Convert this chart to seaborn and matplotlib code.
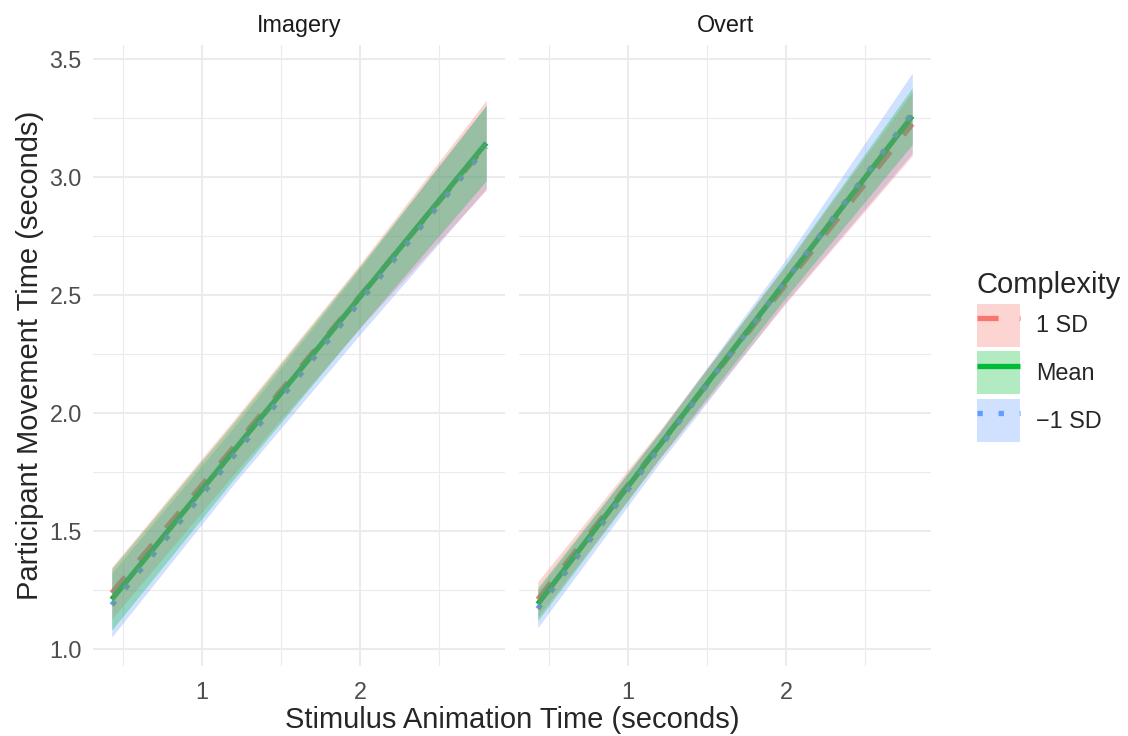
import matplotlib
matplotlib.use("Agg")
import matplotlib.pyplot as plt
import pandas as pd
import seaborn as sns
from matplotlib.lines import Line2D
from matplotlib.patches import Patch
from matplotlib.ticker import FormatStrFormatter, MultipleLocator

PANELS = ["Imagery", "Overt"]
LEVELS = ["1 SD", "Mean", "\u22121 SD"]
X_POINTS = [0.43, 1.2, 2.0, 2.8]

# Imagery panel: fitted line and ribbon bounds, read at X_POINTS
IMAGERY_HI_FIT = [1.237, 1.854, 2.495, 3.135]
IMAGERY_HI_LOW = [1.127, 1.739, 2.360, 2.945]
IMAGERY_HI_UP = [1.347, 1.969, 2.630, 3.325]
IMAGERY_MEAN_FIT = [1.210, 1.838, 2.491, 3.144]
IMAGERY_MEAN_LOW = [1.080, 1.718, 2.361, 2.984]
IMAGERY_MEAN_UP = [1.340, 1.958, 2.621, 3.304]
IMAGERY_LO_FIT = [1.186, 1.817, 2.472, 3.127]
IMAGERY_LO_LOW = [1.050, 1.697, 2.332, 2.950]
IMAGERY_LO_UP = [1.322, 1.937, 2.612, 3.304]

# Overt panel
OVERT_HI_FIT = [1.210, 1.865, 2.545, 3.225]
OVERT_HI_LOW = [1.135, 1.805, 2.465, 3.090]
OVERT_HI_UP = [1.285, 1.925, 2.625, 3.360]
OVERT_MEAN_FIT = [1.190, 1.862, 2.560, 3.258]
OVERT_MEAN_LOW = [1.120, 1.807, 2.490, 3.138]
OVERT_MEAN_UP = [1.260, 1.917, 2.630, 3.378]
OVERT_LO_FIT = [1.170, 1.852, 2.561, 3.270]
OVERT_LO_LOW = [1.090, 1.787, 2.471, 3.100]
OVERT_LO_UP = [1.250, 1.917, 2.651, 3.440]

COLORS = {"1 SD": "#F8766D", "Mean": "#00BA38", "\u22121 SD": "#619CFF"}
DASHES = {"1 SD": (4, 4), "Mean": "", "\u22121 SD": (1, 3)}
RIBBON_ORDER = ["\u22121 SD", "1 SD", "Mean"]

fits = {
    "Imagery": [IMAGERY_HI_FIT, IMAGERY_MEAN_FIT, IMAGERY_LO_FIT],
    "Overt": [OVERT_HI_FIT, OVERT_MEAN_FIT, OVERT_LO_FIT],
}
ribbons = {
    "Imagery": dict(zip(LEVELS, [(IMAGERY_HI_LOW, IMAGERY_HI_UP), (IMAGERY_MEAN_LOW, IMAGERY_MEAN_UP),
                                 (IMAGERY_LO_LOW, IMAGERY_LO_UP)])),
    "Overt": dict(zip(LEVELS, [(OVERT_HI_LOW, OVERT_HI_UP), (OVERT_MEAN_LOW, OVERT_MEAN_UP),
                               (OVERT_LO_LOW, OVERT_LO_UP)])),
}

rows = []
for panel in PANELS:
    for level, values in zip(LEVELS, fits[panel]):
        for x, y in zip(X_POINTS, values):
            rows.append({"panel": panel, "Complexity": level, "x": x, "y": y})
df = pd.DataFrame(rows)

sns.set_theme(style="white")
plt.rcParams["font.family"] = ["Liberation Sans", "DejaVu Sans"]

fig = plt.figure(figsize=(11.28, 7.36), dpi=100)
W, H = 1128, 736
axes = [
    fig.add_axes([93 / W, 1 - 665.5 / H, 412 / W, 620.7 / H]),
    fig.add_axes([519 / W, 1 - 665.5 / H, 412 / W, 620.7 / H]),
]

for ax, panel in zip(axes, PANELS):
    sns.lineplot(
        data=df[df["panel"] == panel], x="x", y="y",
        hue="Complexity", style="Complexity",
        hue_order=LEVELS, style_order=LEVELS,
        palette=COLORS, dashes=DASHES,
        linewidth=3.8, legend=False, ax=ax, zorder=2,
        estimator=None, sort=False,
    )
    for line in ax.get_lines():
        line.set_solid_capstyle("butt")
        line.set_dash_capstyle("butt")
    for level in RIBBON_ORDER:
        low, up = ribbons[panel][level]
        ax.fill_between(X_POINTS, low, up, color=COLORS[level], alpha=0.3, linewidth=0, zorder=3)

    ax.set_xlim(0.3115, 2.9185)
    ax.set_ylim(0.93, 3.56)
    ax.xaxis.set_major_locator(MultipleLocator(1))
    ax.xaxis.set_minor_locator(MultipleLocator(0.5))
    ax.yaxis.set_major_locator(MultipleLocator(0.5))
    ax.yaxis.set_minor_locator(MultipleLocator(0.25))
    ax.grid(which="major", color="#EBEBEB", linewidth=1.5)
    ax.grid(which="minor", color="#EBEBEB", linewidth=0.8)
    ax.set_axisbelow(True)
    for spine in ax.spines.values():
        spine.set_visible(False)
    ax.tick_params(which="both", length=0, labelsize=16.8, colors="#4D4D4D")
    ax.tick_params(axis="x", pad=11)
    ax.tick_params(axis="y", pad=8)
    ax.set_xlabel("")
    ax.set_ylabel("")
    ax.set_title(panel, fontsize=16.8, color="#1A1A1A", pad=9)

axes[0].yaxis.set_major_formatter(FormatStrFormatter("%.1f"))
axes[1].tick_params(axis="y", labelleft=False)

fig.text(512.5 / W, 1 - 720 / H, "Stimulus Animation Time (seconds)", ha="center", va="center", fontsize=21)
fig.text(30 / W, 1 - 355 / H, "Participant Movement Time (seconds)", ha="center", va="center",
         rotation=90, fontsize=21)

handles = [
    (
        Patch(facecolor=COLORS[level], alpha=0.3, edgecolor="none"),
        Line2D([], [], color=COLORS[level], lw=3.8, dashes=DASHES[level] if DASHES[level] else (None, None),
               solid_capstyle="butt", dash_capstyle="butt"),
    )
    for level in LEVELS
]
fig.legend(
    handles, LEVELS, loc="upper left", bbox_to_anchor=(977 / W, 1 - 271 / H),
    frameon=False, title="Complexity", title_fontsize=21, fontsize=16.8,
    handlelength=1.85, handleheight=2.46, labelspacing=0.2, handletextpad=0.7,
    borderpad=0, borderaxespad=0, alignment="left",
)

fig.savefig("out.png", dpi=100)
